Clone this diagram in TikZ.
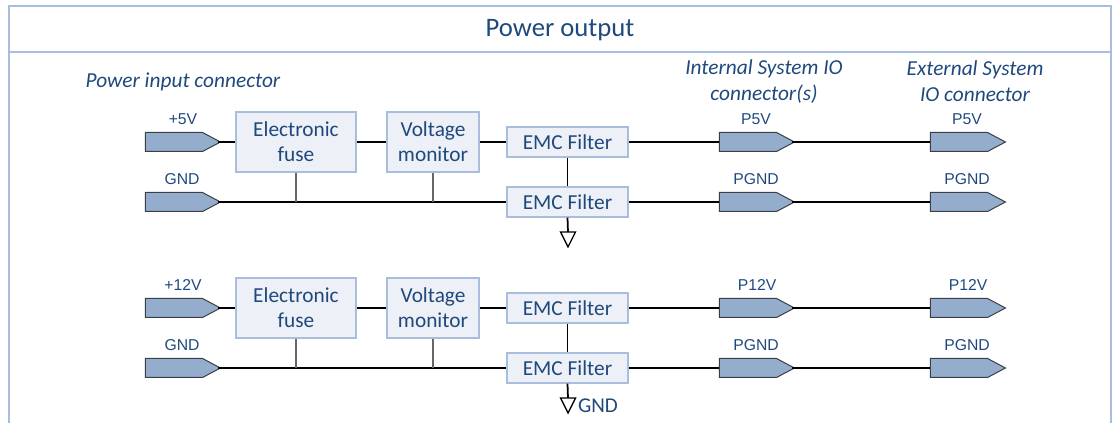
\documentclass[tikz,border=0pt]{standalone}
\usepackage{fontspec}
\setmainfont{Carlito}
\newfontfamily\arialf{Liberation Sans}
\usetikzlibrary{shapes.symbols}
\definecolor{txt}{HTML}{1F497D}
\definecolor{frameblue}{HTML}{A9BEDC}
\definecolor{boxfill}{HTML}{EDF0F6}
\definecolor{connfill}{HTML}{95ADCD}
\definecolor{connline}{HTML}{3A3F45}
\tikzset{
  px/.style={x=0.75pt,y=-0.75pt},
  blockbox/.style={draw=frameblue,line width=0.9pt,fill=boxfill,text=txt,inner sep=0pt,align=center,font=\fontsize{16}{18.7}\selectfont},
  bigblock/.style={blockbox,minimum height=45pt},
  emcbox/.style={blockbox,minimum width=90.75pt,minimum height=22.5pt},
  connshape/.style={draw=connline,line width=0.75pt,fill=connfill,signal,signal to=east,signal pointer angle=56,minimum width=56.25pt,minimum height=14.25pt,inner sep=0pt},
  pinlabel/.style={text=txt,font=\arialf\fontsize{11.8}{13}\selectfont,inner sep=0pt},
  headlabel/.style={text=txt,font=\itshape\fontsize{16}{19.5}\selectfont,inner sep=0pt,align=center},
  wire/.style={draw=black,line width=1.3pt},
  gwire/.style={draw=black,line width=1pt},
  fromtip/.style={shorten <=-2.5pt},
  tap/.style={draw=black!60,line width=0.8pt},
  gndsym/.style={draw=black,line width=1pt,fill=white,line join=miter},
}
\begin{document}
\begin{tikzpicture}[px]
\useasboundingbox (0,0) rectangle (1114,423);
% frame
\coordinate (fa) at (9,423);
\coordinate (fb) at (9,6);
\coordinate (fc) at (1111,6);
\coordinate (fd) at (1111,423);
\coordinate (fe) at (9,52);
\coordinate (ff) at (1111,52);
\draw[draw=frameblue,line width=1pt] (fa) -- (fb) -- (fc) -- (fd) (fe) -- (ff);
\node[text=txt,inner sep=0pt,font=\fontsize{20}{24}\selectfont] (title) at (560,30) {Power output};
\node[headlabel] (hin) at (183,82) {Power input connector};
\node[headlabel] (hint) at (764,81.5) {Internal System IO\\connector(s)};
\node[headlabel] (hext) at (975,81.5) {External System\\IO connector};

% group 1
\node[connshape] (c1) at (174,142) {};
\node[connshape] (c2) at (174,202) {};
\node[connshape] (i1) at (748,142) {};
\node[connshape] (i2) at (748,202) {};
\node[connshape] (e1) at (959,142) {};
\node[connshape] (e2) at (959,202) {};
\node[bigblock,minimum width=90pt] (fuse1) at (296,142) {Electronic\\fuse};
\node[bigblock,minimum width=69pt] (volt1) at (433,142) {Voltage\\monitor};
\node[emcbox] (emc1) at (567.5,142) {EMC Filter};
\node[emcbox] (emc2) at (567.5,202) {EMC Filter};
\node[pinlabel] at (183,119.5) (l1) {+5V};
\node[pinlabel] at (182,179.5) (l2) {GND};
\node[pinlabel] at (756,119.5) (l3) {P5V};
\node[pinlabel] at (756,179.5) (l4) {PGND};
\node[pinlabel] at (967,119.5) (l5) {P5V};
\node[pinlabel] at (967,179.5) (l6) {PGND};
\draw[wire,fromtip] (c1.east) -- (fuse1.west);
\draw[wire] (fuse1.east) -- (volt1.west);
\draw[wire] (volt1.east) -- (emc1.west);
\draw[wire] (emc1.east) -- (i1.west);
\draw[wire,fromtip] (i1.east) -- (e1.west);
\draw[gwire,fromtip] (c2.east) -- (emc2.west);
\draw[gwire] (emc2.east) -- (i2.west);
\draw[gwire,fromtip] (i2.east) -- (e2.west);
\draw[wire] (emc1.south) -- (emc2.north);
\draw[tap] (fuse1.south) -- (fuse1.south |- c2.east);
\draw[tap] (volt1.south) -- (volt1.south |- c2.east);
\coordinate (g1) at (568,232);
\draw[wire] (emc2.south) -- (g1);
\draw[gndsym] (g1) ++(-7.5,0) -- ++(15,0) -- ++(-7.5,15) -- cycle;

% group 2
\node[connshape] (c3) at (174,308) {};
\node[connshape] (c4) at (174,368) {};
\node[connshape] (i3) at (748,308) {};
\node[connshape] (i4) at (748,368) {};
\node[connshape] (e3) at (959,308) {};
\node[connshape] (e4) at (959,368) {};
\node[bigblock,minimum width=90pt] (fuse2) at (296,308) {Electronic\\fuse};
\node[bigblock,minimum width=69pt] (volt2) at (433,308) {Voltage\\monitor};
\node[emcbox] (emc3) at (567.5,308) {EMC Filter};
\node[emcbox] (emc4) at (567.5,368) {EMC Filter};
\node[pinlabel] at (183,285.5) (l7) {+12V};
\node[pinlabel] at (182,345.5) (l8) {GND};
\node[pinlabel] at (757,285.5) (l9) {P12V};
\node[pinlabel] at (756,345.5) (l10) {PGND};
\node[pinlabel] at (968,285.5) (l11) {P12V};
\node[pinlabel] at (967,345.5) (l12) {PGND};
\draw[wire,fromtip] (c3.east) -- (fuse2.west);
\draw[wire] (fuse2.east) -- (volt2.west);
\draw[wire] (volt2.east) -- (emc3.west);
\draw[wire] (emc3.east) -- (i3.west);
\draw[wire,fromtip] (i3.east) -- (e3.west);
\draw[gwire,fromtip] (c4.east) -- (emc4.west);
\draw[gwire] (emc4.east) -- (i4.west);
\draw[gwire,fromtip] (i4.east) -- (e4.west);
\draw[wire] (emc3.south) -- (emc4.north);
\draw[tap] (fuse2.south) -- (fuse2.south |- c4.east);
\draw[tap] (volt2.south) -- (volt2.south |- c4.east);
\coordinate (g2) at (568,398);
\draw[wire] (emc4.south) -- (g2);
\draw[gndsym] (g2) ++(-7.5,0) -- ++(15,0) -- ++(-7.5,15) -- cycle;
\node[text=txt,inner sep=0pt,font=\fontsize{15.8}{17}\selectfont] (gl) at (598,405.5) {GND};
\end{tikzpicture}
\end{document}
